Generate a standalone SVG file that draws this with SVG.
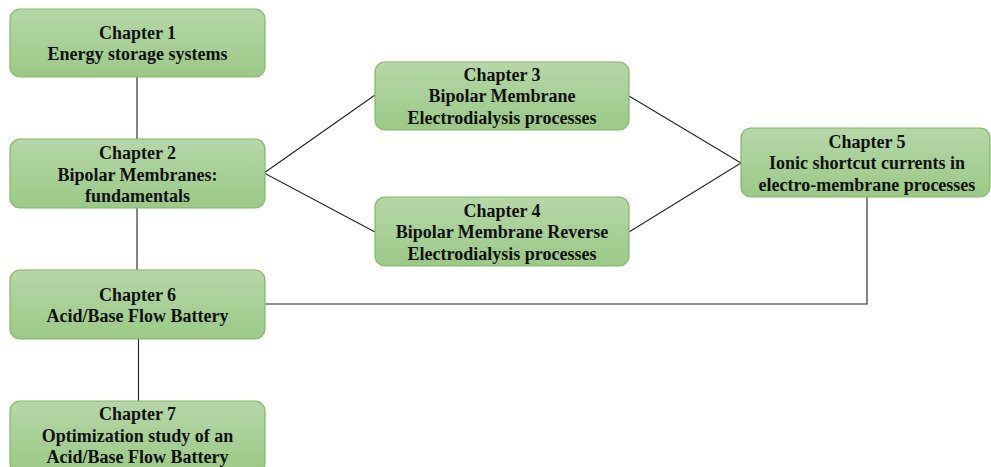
<svg xmlns="http://www.w3.org/2000/svg" width="991" height="467" viewBox="0 0 991 467">
  <defs>
    <linearGradient id="boxFill" x1="0" y1="0" x2="0" y2="1">
      <stop offset="0" stop-color="#b6d7a8"/>
      <stop offset="1" stop-color="#9bc987"/>
    </linearGradient>
    <style>
      .box { fill: url(#boxFill); stroke: #80b866; stroke-width: 1.2; }
      .lbl { font-weight: bold; font-size: 18px; fill: #111; text-anchor: middle; }
      .conn { fill: none; stroke: #222; stroke-width: 1.1; }
    </style>
  </defs>
  <rect width="991" height="467" fill="#ffffff"/>

  <g id="connectors">
    <line class="conn" x1="137" y1="77" x2="137" y2="139"/>
    <line class="conn" x1="137" y1="208" x2="137" y2="270"/>
    <line class="conn" x1="138.5" y1="339" x2="138.5" y2="401"/>
    <polyline class="conn" points="375,95 264,173 375,232"/>
    <polyline class="conn" points="629,96 741,163 629,232"/>
    <polyline class="conn" points="264,304 867,304 867,197"/>
  </g>

  <g font-family="'Liberation Serif', 'Times New Roman', 'DejaVu Serif', serif">
  <g id="ch1">
    <rect class="box" x="10" y="9" width="255" height="68" rx="10"/>
    <text class="lbl" x="137.5" y="39">Chapter 1</text>
    <text class="lbl" x="137.5" y="60">Energy storage systems</text>
  </g>

  <g id="ch2">
    <rect class="box" x="10" y="139" width="255" height="69" rx="10"/>
    <text class="lbl" x="137.5" y="159">Chapter 2</text>
    <text class="lbl" x="137.5" y="181">Bipolar Membranes:</text>
    <text class="lbl" x="137.5" y="202">fundamentals</text>
  </g>

  <g id="ch3">
    <rect class="box" x="375" y="62" width="254" height="68" rx="10"/>
    <text class="lbl" x="502" y="81">Chapter 3</text>
    <text class="lbl" x="502" y="102">Bipolar Membrane</text>
    <text class="lbl" x="502" y="124">Electrodialysis processes</text>
  </g>

  <g id="ch4">
    <rect class="box" x="375" y="197" width="254" height="69" rx="10"/>
    <text class="lbl" x="502" y="217">Chapter 4</text>
    <text class="lbl" x="502" y="238">Bipolar Membrane Reverse</text>
    <text class="lbl" x="502" y="260">Electrodialysis processes</text>
  </g>

  <g id="ch5">
    <rect class="box" x="741" y="128" width="249" height="69" rx="10"/>
    <text class="lbl" x="867" y="148">Chapter 5</text>
    <text class="lbl" x="867" y="169">Ionic shortcut currents in</text>
    <text class="lbl" x="867" y="191">electro-membrane processes</text>
  </g>

  <g id="ch6">
    <rect class="box" x="10" y="270" width="255" height="69" rx="10"/>
    <text class="lbl" x="137.5" y="301">Chapter 6</text>
    <text class="lbl" x="137.5" y="322">Acid/Base Flow Battery</text>
  </g>

  <g id="ch7">
    <rect class="box" x="10" y="401" width="255" height="72" rx="10"/>
    <text class="lbl" x="137.5" y="420">Chapter 7</text>
    <text class="lbl" x="137.5" y="442">Optimization study of an</text>
    <text class="lbl" x="137.5" y="463">Acid/Base Flow Battery</text>
  </g>
  </g>
</svg>
